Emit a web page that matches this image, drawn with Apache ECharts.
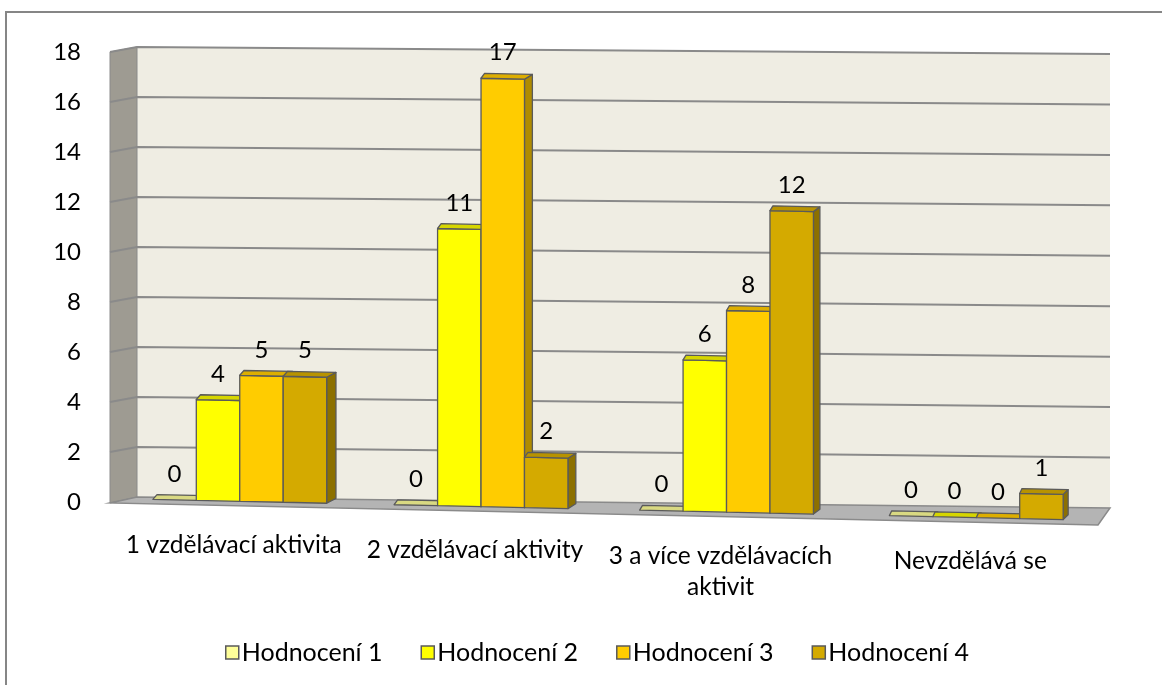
<!DOCTYPE html>
<html>
<head>
<meta charset="utf-8">
<script src="https://cdn.jsdelivr.net/npm/echarts@6/dist/echarts.min.js"></script>
<style>
  html, body { margin: 0; padding: 0; background: #fff; }
  #chart { width: 1162px; height: 685px; }
</style>
</head>
<body>
<div id="chart"></div>
<script>
// Categories and values
const categories = ['1 vzdělávací aktivita', '2 vzdělávací aktivity', '3 a více vzdělávacích\naktivit', 'Nevzdělává se'];
const seriesNames = ['Hodnocení 1', 'Hodnocení 2', 'Hodnocení 3', 'Hodnocení 4'];
const hodnoceni1 = [0, 0, 0, 0];
const hodnoceni2 = [4, 11, 6, 0];
const hodnoceni3 = [5, 17, 8, 0];
const hodnoceni4 = [5, 2, 12, 1];
const yMin = 0, yMax = 18, yStep = 2;

const seriesValues = [hodnoceni1, hodnoceni2, hodnoceni3, hodnoceni4];
const frontColors = ['#FFFF99', '#FFFF00', '#FFCC00', '#D4AA00'];
const topColors   = ['#D9D982', '#D6D600', '#DDAE00', '#B89300'];
const sideColors  = ['#B3B36E', '#A8A800', '#B08C00', '#8C7000'];
const edgeColor = '#5a5a5a';
const gridColor = '#8a8a8a';
const FONT = 'Lato, "Open Sans", sans-serif';

// Perspective helpers for the bar plane
const SHEAR = 0.0222;   // baseline drops slightly towards the right
const WARP = 3.5e-5;    // slight horizontal compression of the middle groups
const BAR_FRAC = 0.177; // bar width as a share of the category band
const DEPTH_DY = -4.8;

function planeInfo(api) {
  const c0 = api.coord([0, 0]);
  const c3 = api.coord([categories.length - 1, 0]);
  return {
    c0: c0[0], c3: c3[0],
    sh: x => SHEAR * (x - c0[0]),
    warp: x => x + WARP * (x - c0[0]) * (x - c3[0])
  };
}

function barRenderer(k) {
  return function (params, api) {
    const ci = api.value(0);
    const v = api.value(1);
    const P = planeInfo(api);
    const band = api.size([1, 0])[0];
    const w = band * BAR_FRAC;
    const center = P.warp(api.coord([ci, 0])[0]);
    const cx = center + (k - 1.5) * w;
    const x0 = cx - w / 2, x1 = cx + w / 2;
    const by = api.coord([ci, 0])[1];
    const ty = api.coord([ci, v])[1];
    const yb = x => by + P.sh(x);
    const yt = x => ty + P.sh(x);
    const t = (center - P.c0) / (P.c3 - P.c0);
    const dxR = 9.3 - 4.3 * t;
    const dxL = 0.45 * dxR;
    const dy = DEPTH_DY;
    const children = [];
    const stroke = { stroke: edgeColor, lineWidth: 1.3, lineJoin: 'round' };
    if (v > 0) {
      children.push({
        type: 'polygon',
        shape: { points: [[x1, yb(x1)], [x1 + dxR, yb(x1) + dy], [x1 + dxR, yt(x1) + dy], [x1, yt(x1)]] },
        style: Object.assign({ fill: sideColors[k] }, stroke)
      });
      children.push({
        type: 'polygon',
        shape: { points: [[x0, yb(x0)], [x1, yb(x1)], [x1, yt(x1)], [x0, yt(x0)]] },
        style: Object.assign({ fill: frontColors[k] }, stroke)
      });
    }
    children.push({
      type: 'polygon',
      shape: { points: [[x0, yt(x0)], [x1, yt(x1)], [x1 + dxR, yt(x1) + dy], [x0 + dxL, yt(x0) + dy]] },
      style: Object.assign({ fill: topColors[k] }, stroke)
    });
    children.push({
      type: 'text',
      x: cx, y: yt(cx) - 26,
      style: {
        text: String(v), fill: '#000', font: '24px ' + FONT,
        align: 'center', verticalAlign: 'middle'
      }
    });
    return { type: 'group', children: children };
  };
}

function categoryLabelRenderer(params, api) {
  const ci = api.value(0);
  const P = planeInfo(api);
  const c = api.coord([ci, 0]);
  const cx = P.warp(c[0]);
  return {
    type: 'text',
    x: cx - 6,
    y: c[1] + P.sh(cx) + 28,
    style: {
      text: categories[ci], fill: '#000', font: '24.5px ' + FONT,
      align: 'center', verticalAlign: 'top', lineHeight: 31
    }
  };
}

// Walls, floor and gridlines of the plot box
function roomRenderer(params, api) {
  const L = api.coord([0, yMin]);
  const R = api.coord([1, yMin]);
  const xF = L[0], xB = L[0] + 27, xR = R[0];
  const yF = v => api.coord([0, v])[1];
  const yBL = v => yF(v) - 5;
  const yBR = v => yF(v) + 6 - 4 * (v - yMin) / (yMax - yMin);
  const children = [];
  children.push({
    type: 'polygon',
    shape: { points: [[xB, yBL(yMax)], [xR, yBR(yMax)], [xR, yBR(yMin)], [xB, yBL(yMin)]] },
    style: { fill: '#EFEDE3' }
  });
  children.push({
    type: 'polygon',
    shape: { points: [[xF, yF(yMin) + 1], [xF, yF(yMax)], [xB, yBL(yMax)], [xB, yBL(yMin)]] },
    style: { fill: '#9E9B92', stroke: gridColor, lineWidth: 1 }
  });
  children.push({
    type: 'polygon',
    shape: { points: [[xB, yBL(yMin)], [xR, yBR(yMin)], [xR - 12, yF(yMin) + 23], [xF, yF(yMin) + 1]] },
    style: { fill: '#B4B4B4', stroke: gridColor, lineWidth: 1.5 }
  });
  for (let v = yMin + yStep; v <= yMax; v += yStep) {
    children.push({
      type: 'polyline',
      shape: { points: [[xF, yF(v)], [xB, yBL(v)], [xR, yBR(v)]] },
      style: { stroke: gridColor, lineWidth: 2, fill: null }
    });
  }
  return { type: 'group', children: children };
}

const chart = echarts.init(document.getElementById('chart'), null, { renderer: 'canvas' });

const barSeries = seriesNames.map((name, k) => ({
  name: name,
  type: 'custom',
  xAxisIndex: 1,
  yAxisIndex: 1,
  renderItem: barRenderer(k),
  itemStyle: { color: frontColors[k], borderColor: edgeColor, borderWidth: 1.5 },
  encode: { x: 0, y: 1 },
  data: seriesValues[k].map((v, i) => [i, v]),
  z: 3 + k
}));

chart.setOption({
  backgroundColor: '#ffffff',
  animation: false,
  graphic: [{
    type: 'rect',
    shape: { x: 6, y: 12, width: 1200, height: 700 },
    style: { fill: 'none', stroke: '#868686', lineWidth: 2 },
    silent: true
  }],
  legend: {
    data: seriesNames.map((n, k) => ({
      name: n,
      itemStyle: { color: frontColors[k], borderColor: edgeColor, borderWidth: 1.5 }
    })),
    icon: 'rect',
    itemWidth: 13,
    itemHeight: 13,
    itemGap: 38,
    left: 220,
    top: 635,
    textStyle: { fontFamily: FONT, fontSize: 25, color: '#000', padding: [0, 0, 0, -2] }
  },
  grid: [
    { left: 110, right: 52, top: 52, bottom: 183 },
    { left: 117, right: 63, top: 47.7, bottom: 183.7 }
  ],
  xAxis: [
    { type: 'value', gridIndex: 0, min: 0, max: 1, show: false },
    { type: 'category', gridIndex: 1, data: categories, show: false }
  ],
  yAxis: [
    {
      type: 'value', gridIndex: 0, min: yMin, max: yMax, interval: yStep,
      axisLine: { show: false }, axisTick: { show: false }, splitLine: { show: false },
      axisLabel: { margin: 29, fontFamily: FONT, fontSize: 24, color: '#000' }
    },
    {
      type: 'value', gridIndex: 1, min: yMin, max: yMax, interval: yStep, show: false
    }
  ],
  series: [
    {
      name: 'room', type: 'custom', xAxisIndex: 0, yAxisIndex: 0,
      renderItem: roomRenderer, data: [[0, 0]], silent: true, z: 1
    },
    {
      name: 'categoryLabels', type: 'custom', xAxisIndex: 1, yAxisIndex: 1,
      renderItem: categoryLabelRenderer, data: categories.map((c, i) => [i, 0]),
      silent: true, z: 2
    }
  ].concat(barSeries)
});
</script>
</body>
</html>
